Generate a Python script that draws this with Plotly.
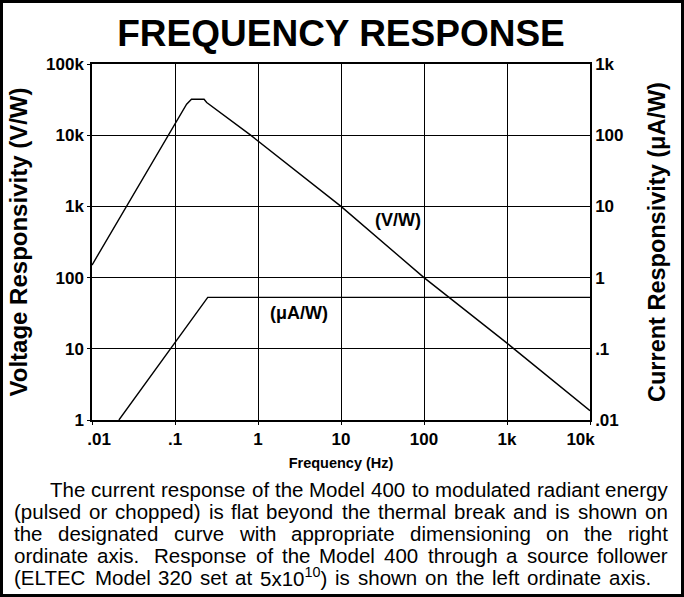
import math
import plotly.graph_objects as go

# ---- data ----
freq_vw = [0.01, 0.081, 0.138, 0.158, 0.224, 0.241, 0.80, 10, 100, 1000, 10000]
resp_vw = [150, 9800, 27300, 32000, 32000, 28800, 10200, 1000, 100, 12, 1.35]

freq_ua = [0.0211, 0.248, 10000]
resp_ua = [0.01, 0.527, 0.527]

x_tickvals = [0.01, 0.1, 1, 10, 100, 1000, 10000]
x_ticktext = ["\u00a0\u00a0\u00a0.01", ".1", "1", "10", "100", "1k", "10k\u00a0\u00a0\u00a0\u00a0"]
yl_tickvals = [1, 10, 100, 1000, 10000, 100000]
yl_ticktext = ["1", "10", "100", "1k", "10k", "100k"]
yr_tickvals = [0.01, 0.1, 1, 10, 100, 1000]
yr_ticktext = [".01", ".1", "1", "10", "100", "1k"]

paragraph = [
    "The current response of the Model 400 to modulated radiant energy",
    "(pulsed or chopped) is flat beyond the thermal break and is shown on",
    "the designated curve with appropriate dimensioning on the right",
    "ordinate axis.  Response of the Model 400 through a source follower",
    "(ELTEC Model 320 set at 5x10<sup>10</sup>) is shown on the left ordinate axis.",
]

W, H = 684, 597
ML, MR, MT, MB = 92, 94, 64, 177
PW, PH = W - ML - MR, H - MT - MB


def px2x(px):
    return (px - ML) / PW


def py2y(py):
    return (H - MB - py) / PH


FONT = "Liberation Sans, Arial, Helvetica, sans-serif"

# Arial / Liberation Sans advance widths (1/1000 em) used to justify the paragraph
ADV = dict(zip("abcdefghijklmnopqrstuvwxyz",
               [556, 556, 500, 556, 556, 278, 556, 556, 222, 222, 500, 222, 833,
                556, 556, 556, 556, 333, 500, 278, 556, 500, 722, 500, 500, 500]))
ADV.update(dict(zip("ABCDEFGHIJKLMNOPQRSTUVWXYZ",
                    [667, 667, 722, 722, 667, 611, 778, 722, 278, 500, 667, 556, 833,
                     722, 778, 667, 778, 722, 667, 611, 722, 667, 944, 667, 667, 611])))
ADV.update({d: 556 for d in "0123456789"})
ADV.update({" ": 278, "(": 333, ")": 333, ".": 278})


def word_width(word, size):
    w = 0.0
    sup = False
    i = 0
    while i < len(word):
        if word.startswith("<sup>", i):
            sup = True
            i += 5
            continue
        if word.startswith("</sup>", i):
            sup = False
            i += 6
            continue
        w += ADV.get(word[i], 556) * (0.7 if sup else 1.0)
        i += 1
    return w * size / 1000.0


PSIZE = 20.5
line_y = [489, 511, 533, 555, 577]
line_x0 = [50, 14, 14, 14, 14]
line_x1 = [668, 668, 668, 668, 651]

fig = go.Figure()
fig.add_trace(go.Scatter(x=freq_vw, y=resp_vw, mode="lines",
                         line=dict(color="black", width=1.4), yaxis="y",
                         showlegend=False, hoverinfo="skip"))
fig.add_trace(go.Scatter(x=freq_ua, y=resp_ua, mode="lines",
                         line=dict(color="black", width=1.4), yaxis="y2",
                         showlegend=False, hoverinfo="skip"))

axis_common = dict(type="log", showgrid=True, gridcolor="black", gridwidth=1,
                   showline=True, linecolor="black", linewidth=1.5,
                   ticks="outside", ticklen=3, tickcolor="black",
                   tickfont=dict(family=FONT, size=17, color="black", weight="bold"),
                   zeroline=False, fixedrange=True)

fig.update_layout(
    width=W, height=H,
    margin=dict(l=ML, r=MR, t=MT, b=MB, autoexpand=False),
    paper_bgcolor="white", plot_bgcolor="white",
    font=dict(family=FONT, color="black"),
    title=dict(text="<b>FREQUENCY RESPONSE</b>", x=0.5, xanchor="center",
               xref="paper", y=1 - 33 / H, yref="container", yanchor="middle",
               font=dict(family=FONT, size=37, color="black")),
    xaxis=dict(axis_common, range=[-2, 4], tickvals=x_tickvals, ticktext=x_ticktext,
               mirror=True,
               title=dict(text="<b>Frequency (Hz)</b>", standoff=10,
                          font=dict(family=FONT, size=14.5, color="black"))),
    yaxis=dict(axis_common, range=[0, 5], tickvals=yl_tickvals, ticktext=yl_ticktext,
               title=dict(text="<b>Voltage Responsivity (V/W)</b>", standoff=12,
                          font=dict(family=FONT, size=24, color="black"))),
    yaxis2=dict(axis_common, range=[-2, 3], tickvals=yr_tickvals, ticktext=yr_ticktext,
                overlaying="y", side="right", showgrid=False, ticks="",
                title=dict(text="<b>Current Responsivity (\u03bcA/W)</b>", standoff=26,
                           font=dict(family=FONT, size=23.5, color="black"))),
)

# curve labels
fig.add_annotation(x=math.log10(48.6), y=math.log10(635), xref="x", yref="y",
                   text="<b>(V/W)</b>", showarrow=False,
                   font=dict(family=FONT, size=18, color="black"))
fig.add_annotation(x=math.log10(3.1), y=math.log10(0.32), xref="x", yref="y2",
                   text="<b>(\u03bcA/W)</b>", showarrow=False,
                   font=dict(family=FONT, size=18, color="black"))

# paragraph text, justified word by word
for txt, py, x0, x1 in zip(paragraph, line_y, line_x0, line_x1):
    words = txt.split(" ")
    tokens = []
    gaps = []
    pending = 0
    for w in words:
        if w == "":
            pending += 1
            continue
        if tokens:
            gaps.append(1 + pending)
        pending = 0
        tokens.append(w)
    natural = sum(word_width(w, PSIZE) for w in tokens) + sum(g * 278 * PSIZE / 1000 for g in gaps)
    extra = (x1 - x0 - natural) / max(len(gaps), 1)
    pos = x0
    for k, w in enumerate(tokens):
        fig.add_annotation(x=px2x(pos), y=py2y(py), xref="paper", yref="paper",
                           xanchor="left", yanchor="middle", text=w, showarrow=False,
                           borderpad=0, borderwidth=0,
                           font=dict(family=FONT, size=PSIZE, color="black"))
        pos += word_width(w, PSIZE)
        if k < len(gaps):
            pos += gaps[k] * 278 * PSIZE / 1000 + extra

# outer frame
fig.add_shape(type="rect", xref="paper", yref="paper",
              x0=px2x(1.5), x1=px2x(682.5), y0=py2y(595.5), y1=py2y(1.5),
              line=dict(color="black", width=3), layer="below")

fig.write_html("out.html", config={"displayModeBar": False},
               post_script="document.body.style.margin='0';")
